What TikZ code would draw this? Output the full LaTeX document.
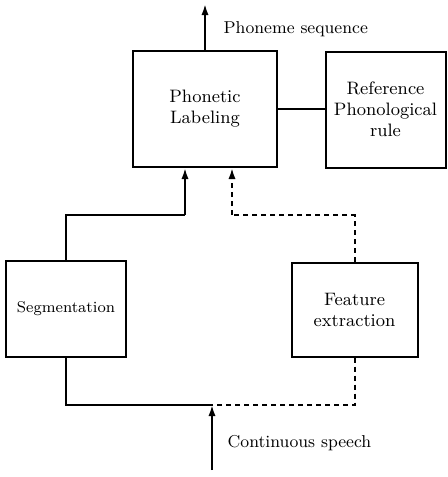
\documentclass[tikz,border=0pt]{standalone}
\usepackage{tikz}
\usetikzlibrary{shapes,arrows,arrows.meta}

\begin{document}
\begin{tikzpicture}[x=0.5pt,y=-0.5pt,->,>={Latex[length=5.5pt,width=3.6pt]},line width=1pt,
  block/.style={rectangle, draw, align=center, inner sep=2pt,
    font=\fontsize{9}{10.5}\selectfont},
  lbl/.style={anchor=west, font=\fontsize{8.6}{10}\selectfont},
  dashline/.style={dash pattern=on 2.5pt off 2pt}]

  \useasboundingbox (0,0) rectangle (447,477);

  \node[block, minimum width=72pt, minimum height=58pt] (pl) at (205,109) {Phonetic\\Labeling};
  \node[block, minimum width=60pt, minimum height=58pt] (ref) at (385.5,109.5) {Reference\\Phonological\\rule};
  \node[block, minimum width=60pt, minimum height=48pt,
    font=\fontsize{7.8}{9}\selectfont] (seg) at (66,308.5) {Segmentation};
  \node[block, minimum width=63pt, minimum height=47pt] (feat) at (354.5,309.5) {Feature\\extraction};

  \coordinate (out) at (205,4);
  \coordinate (in) at (212,470);
  \coordinate (sj) at (185,215);
  \coordinate (dj) at (232,215);
  \coordinate (mj) at (212,405);

  \node[lbl] (outlbl) at (216,29) {Phoneme sequence};
  \node[lbl] (inlbl) at (220,443) {Continuous speech};

  % outputs and reference rules
  \draw (pl.north) -- (out);
  \draw[-] (pl.east) -- (pl.east -| ref.west);

  % segmentation path
  \draw[-] (seg.north) |- (sj);
  \draw (sj) -- (sj |- pl.south);

  % feature path
  \draw[-, dashline] (feat.north) |- (dj);
  \draw[dashline] (dj) -- (dj |- pl.south);

  % input speech
  \draw[-] (seg.south) |- (mj);
  \draw[-, dashline] (feat.south) |- (mj);
  \draw (in) -- (mj);
\end{tikzpicture}
\end{document}
